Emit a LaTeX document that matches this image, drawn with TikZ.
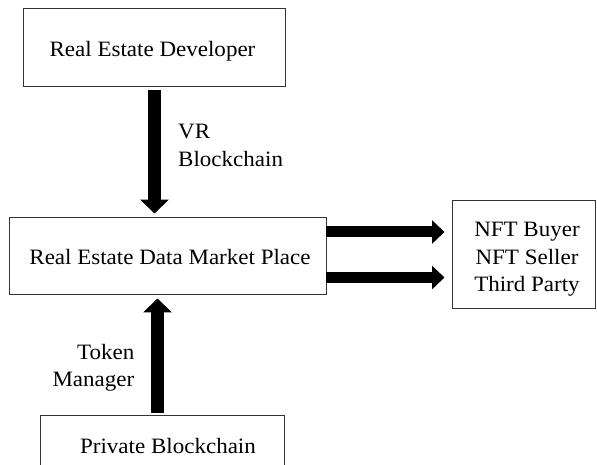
\documentclass[tikz,border=0pt]{standalone}
\usepackage{fontspec}
\setmainfont{Liberation Serif}[FakeStretch=1.05]
\usetikzlibrary{arrows.meta}
\begin{document}
\begin{tikzpicture}[x=1bp,y=-1bp,
  box/.style={draw=black!80,line width=0.9bp,inner sep=0pt},
  fat/.style={line width=12.5bp,-{Triangle[length=14bp,width=28bp]}},
  fath/.style={line width=11bp,-{Triangle[length=12.5bp,width=23bp]}},
  lbl/.style={inner sep=0pt,align=#1},
  every node/.append style={font=\fontsize{22}{27.5}\selectfont}]
\useasboundingbox (0,0) rectangle (597,465);
% boxes
\node[box,minimum width=262bp,minimum height=78bp] (dev) at (154,47) {};
\node[anchor=base] (devtext) at (152.5,57) {Real Estate Developer};
\node[box,minimum width=317bp,minimum height=77bp] (market) at (167.5,255.5) {};
\node[anchor=base] (markettext) at (170,265) {Real Estate Data Market Place};
\node[box,minimum width=143.5bp,minimum height=108bp] (users) at (523.7,254) {};
\node[lbl=center,anchor=base] (u1) at (527,237) {NFT Buyer};
\node[lbl=center,anchor=base] (u2) at (527,265) {NFT Seller};
\node[lbl=center,anchor=base] (u3) at (527,292) {Third Party};
\begin{scope}
\clip (0,0) rectangle (597,465);
\node[box,minimum width=244bp,minimum height=60bp,anchor=north] (priv) at (162,415) {};
\end{scope}
\node[anchor=base] (privtext) at (168,453) {Private Blockchain};
% connectors
\draw[fat,shorten <=4bp,shorten >=3bp] ([xshift=0.5bp]dev.south) -- ([xshift=0.5bp]dev.south |- market.north);
\draw[fat,shorten <=2bp,shorten >=4bp] ([xshift=-4.5bp]priv.north) -- ([xshift=-4.5bp]priv.north |- market.south);
\coordinate (m1) at ([yshift=-22bp]market.east);
\coordinate (m2) at ([yshift=23.5bp]market.east);
\draw[fath,shorten >=7bp] (m1) -- (m1 -| users.west);
\draw[fath,shorten >=7bp] (m2) -- (m2 -| users.west);
% labels
\node[lbl=left,anchor=base west] (vr) at (178,139) {VR};
\node[lbl=left,anchor=base west] (vrb) at (178,167) {Blockchain};
\node[lbl=right,anchor=base east] (tok) at (134.5,359) {Token};
\node[lbl=right,anchor=base east] (tokm) at (134.5,386) {Manager};
\end{tikzpicture}
\end{document}
